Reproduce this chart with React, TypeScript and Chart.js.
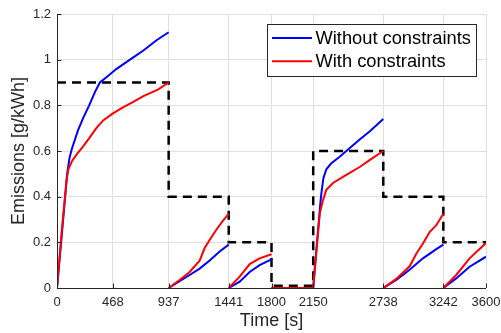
import React, { useEffect, useRef } from "react";
import { Chart, registerables } from "chart.js";

Chart.register(...registerables);

// ---- data ----
const xTickValues = [0, 468, 937, 1441, 1800, 2150, 2738, 3242, 3600];

const stepTimes = [0, 937, 1441, 1800, 2150, 2738, 3242, 3600];
const stepLimits = [0.9, 0.4, 0.2, 0.01, 0.6, 0.4, 0.2, 0.2];

// null value = break between segments
const blueTime = [
  0, 40, 85, 105, 125, 176, 220, 270, 320, 360, 420, 500, 570, 640, 725, 835, 937,
  937,
  937, 1029, 1113, 1197, 1281, 1365, 1441,
  1441,
  1441, 1533, 1617, 1700, 1800,
  1800,
  1800, 2150, 2185, 2215, 2235, 2260, 2300, 2372, 2428, 2540, 2623, 2738,
  2738,
  2738, 2847, 2959, 3071, 3183, 3242,
  3242,
  3242, 3350, 3462, 3600,
];
const blueValue = [
  0, 0.23, 0.5, 0.57, 0.61, 0.69, 0.745, 0.8, 0.86, 0.9, 0.925, 0.96, 0.985, 1.01, 1.04, 1.085, 1.12,
  null,
  0, 0.03, 0.057, 0.085, 0.12, 0.16, 0.19,
  null,
  0, 0.028, 0.07, 0.1, 0.125,
  null,
  0, 0, 0.22, 0.4, 0.48, 0.52, 0.545, 0.575, 0.6, 0.65, 0.685, 0.74,
  null,
  0, 0.035, 0.08, 0.13, 0.17, 0.19,
  null,
  0, 0.042, 0.093, 0.137,
];

const redTime = [
  0, 40, 80, 95, 125, 165, 220, 275, 330, 390, 470, 550, 640, 725, 850, 937,
  937,
  937, 1029, 1113, 1197, 1239, 1281, 1337, 1393, 1441,
  1441,
  1441, 1533, 1617, 1700, 1800,
  1800,
  1800, 2150, 2180, 2206, 2232, 2260, 2316, 2428, 2540, 2623, 2738,
  2738,
  2738, 2847, 2959, 3015, 3071, 3127, 3183, 3242,
  3242,
  3242, 3350, 3462, 3600,
];
const redValue = [
  0, 0.25, 0.47, 0.52, 0.555, 0.585, 0.62, 0.66, 0.7, 0.735, 0.765, 0.79, 0.815, 0.84, 0.87, 0.9,
  null,
  0, 0.035, 0.07, 0.12, 0.175, 0.21, 0.255, 0.295, 0.325,
  null,
  0, 0.05, 0.105, 0.13, 0.148,
  null,
  0, 0, 0.18, 0.33, 0.385, 0.43, 0.46, 0.495, 0.53, 0.56, 0.6,
  null,
  0, 0.04, 0.095, 0.15, 0.195, 0.245, 0.275, 0.325,
  null,
  0, 0.057, 0.13, 0.197,
];

const legendLabels = ["Without constraints", "With constraints"];
const legendColors = ["#0000ff", "#ff0000"];

const FONT = "'Liberation Sans', Arial, Helvetica, sans-serif";
const AXIS = "#262626";

const zip = (t: number[], v: (number | null)[]) => t.map((x, i) => ({ x, y: v[i] }));

const overlayPlugin = {
  id: "overlay",
  afterDraw(chart: any) {
    const ctx = chart.ctx as CanvasRenderingContext2D;
    const { left, right, top, bottom } = chart.chartArea;
    const xs = chart.scales.x;
    const ys = chart.scales.y;
    ctx.save();
    ctx.strokeStyle = AXIS;
    ctx.lineWidth = 1;
    // axis lines
    ctx.beginPath();
    ctx.moveTo(Math.round(left) + 0.5, top);
    ctx.lineTo(Math.round(left) + 0.5, Math.round(bottom) + 0.5);
    ctx.lineTo(right, Math.round(bottom) + 0.5);
    ctx.stroke();
    // inner ticks
    xs.ticks.forEach((t: any) => {
      const px = Math.round(xs.getPixelForValue(t.value)) + 0.5;
      ctx.beginPath();
      ctx.moveTo(px, bottom);
      ctx.lineTo(px, bottom - 4.5);
      ctx.stroke();
    });
    ys.ticks.forEach((t: any) => {
      const py = Math.round(ys.getPixelForValue(t.value)) + 0.5;
      ctx.beginPath();
      ctx.moveTo(left, py);
      ctx.lineTo(left + 4.5, py);
      ctx.stroke();
    });
    // legend
    const bw = 209;
    const bh = 52;
    const bx = Math.round(right - 10 - bw) + 0.5;
    const by = Math.round(top + 10) + 0.5;
    ctx.fillStyle = "#ffffff";
    ctx.fillRect(bx, by, bw, bh);
    ctx.strokeStyle = "#262626";
    ctx.lineWidth = 1;
    ctx.strokeRect(bx, by, bw, bh);
    ctx.font = `18.3px ${FONT}`;
    ctx.textBaseline = "middle";
    ctx.textAlign = "left";
    legendLabels.forEach((lab, i) => {
      const ly = by + 13.5 + i * 23.3;
      ctx.strokeStyle = legendColors[i];
      ctx.lineWidth = 2;
      ctx.beginPath();
      ctx.moveTo(bx + 4.5, ly);
      ctx.lineTo(bx + 44.5, ly);
      ctx.stroke();
      ctx.fillStyle = "#000000";
      ctx.fillText(lab, bx + 48, ly + 1);
    });
    ctx.restore();
  },
};

export default function App() {
  const ref = useRef<HTMLCanvasElement | null>(null);
  useEffect(() => {
    if (!ref.current) return;
    const chart = new Chart(ref.current, {
      type: "line",
      data: {
        datasets: [
          {
            label: legendLabels[1],
            data: zip(redTime, redValue),
            borderColor: legendColors[1],
            borderWidth: 2,
            pointRadius: 0,
            tension: 0,
            spanGaps: false,
          },
          {
            label: legendLabels[0],
            data: zip(blueTime, blueValue),
            borderColor: legendColors[0],
            borderWidth: 2,
            pointRadius: 0,
            tension: 0,
            spanGaps: false,
          },
          {
            label: "limit",
            data: zip(stepTimes, stepLimits),
            borderColor: "#000000",
            borderWidth: 2.5,
            borderDash: [9, 6],
            pointRadius: 0,
            stepped: "before",
          },
        ],
      } as any,
      options: {
        animation: false,
        responsive: false,
        layout: { padding: { top: 14, right: 15, left: 0, bottom: 0 } },
        plugins: { legend: { display: false }, tooltip: { enabled: false } },
        scales: {
          x: {
            type: "linear",
            min: 0,
            max: 3600,
            afterBuildTicks: (s: any) => {
              s.ticks = xTickValues.map((v) => ({ value: v }));
            },
            afterFit: (s: any) => {
              s.height = 45;
              s.paddingLeft = 0;
              s.paddingRight = 0;
            },
            ticks: {
              autoSkip: false,
              maxRotation: 0,
              minRotation: 0,
              padding: 7,
              color: AXIS,
              font: { family: FONT, size: 13 },
              callback: (v: any) => String(v),
            },
            grid: { color: "#dfdfdf", lineWidth: 1, drawTicks: false },
            border: { display: false },
            title: {
              display: true,
              text: "Time [s]",
              color: AXIS,
              font: { family: FONT, size: 18 },
              padding: { top: 0, bottom: 1 },
            },
          },
          y: {
            type: "linear",
            min: 0,
            max: 1.2,
            afterFit: (s: any) => {
              s.width = 57;
              s.paddingTop = 0;
              s.paddingBottom = 0;
            },
            ticks: {
              stepSize: 0.2,
              padding: 6,
              color: AXIS,
              font: { family: FONT, size: 13 },
              callback: (v: any) => String(Math.round(Number(v) * 10) / 10),
            },
            grid: { color: "#dfdfdf", lineWidth: 1, drawTicks: false },
            border: { display: false },
            title: {
              display: true,
              text: "Emissions [g/kWh]",
              color: AXIS,
              font: { family: FONT, size: 18 },
              padding: { top: 8, bottom: 0 },
            },
          },
        },
      } as any,
      plugins: [overlayPlugin],
    });
    return () => chart.destroy();
  }, []);
  return (
    <div style={{ position: "absolute", left: 0, top: 0, width: 501, height: 333, background: "#fff" }}>
      <canvas ref={ref} width={501} height={333} style={{ width: 501, height: 333, display: "block" }} />
    </div>
  );
}
